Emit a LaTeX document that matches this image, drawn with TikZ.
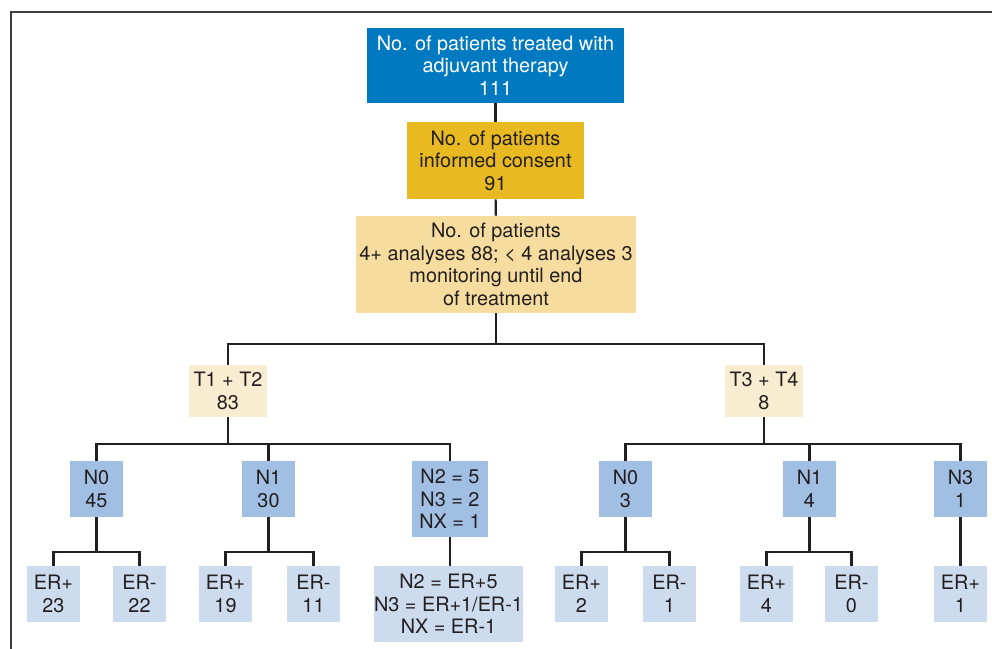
\documentclass[tikz,border=0pt]{standalone}
\usepackage{fontspec}
\setmainfont{TeX Gyre Heros}
\definecolor{topblue}{RGB}{0,121,193}
\definecolor{gold}{RGB}{232,185,32}
\definecolor{tan}{RGB}{246,220,158}
\definecolor{cream}{RGB}{249,237,209}
\definecolor{nblue}{RGB}{161,191,227}
\definecolor{erblue}{RGB}{205,219,238}
\definecolor{ink}{RGB}{35,31,32}
\definecolor{framegray}{RGB}{60,60,60}

\begin{document}
\begin{tikzpicture}[x=0.02cm,y=-0.02cm]

\tikzstyle{box}=[align=center, inner sep=0pt, text=ink, font=\fontsize{11.3}{12.8}\selectfont]
\tikzstyle{nbox}=[box, fill=nblue, minimum width=1.06cm, minimum height=1.12cm]
\tikzstyle{erbox}=[box, fill=erblue, minimum width=1.06cm, minimum height=1.12cm]
\tikzstyle{tbox}=[box, fill=cream, minimum width=1.56cm, minimum height=1.04cm]
\tikzstyle{link}=[draw=ink, line width=1.2pt]

\useasboundingbox (0,0) rectangle (992,649);
\draw[framegray, line width=0.7pt] (11,649) -- (11,12) -- (992,12);

% top part
\node(top)[box, fill=topblue, text=white, minimum width=5.14cm, minimum height=1.5cm] at (495.5,65.5) {No. of patients treated with\\adjuvant therapy\\111};
\node(consent)[box, fill=gold, minimum width=3.54cm, minimum height=1.54cm] at (495.5,160.5) {No. of patients\\informed consent\\91};
\node(monitor)[box, fill=tan, minimum width=5.6cm, minimum height=1.94cm] at (496,264.5) {No. of patients\\4+ analyses 88; < 4 analyses 3\\monitoring until end\\of treatment};

% T stages
\node(t12)[tbox] at (228,391) {T1 + T2\\83};
\node(t34)[tbox] at (764,391) {T3 + T4\\8};

% N stages
\node(n0a)[nbox] at (96.5,489) {N0\\45};
\node(n1a)[nbox] at (268.5,489) {N1\\30};
\node(n2a)[nbox, minimum width=1.52cm, minimum height=1.52cm] at (450,499) {N2 = 5\\N3 = 2\\NX = 1};
\node(n0b)[nbox] at (625.5,489) {N0\\3};
\node(n1b)[nbox] at (809.5,489) {N1\\4};
\node(n3b)[nbox] at (960.5,489) {N3\\1};

% ER status
\node(er23)[erbox] at (53.5,594) {ER+\\23};
\node(er22)[erbox] at (139.5,594) {ER-\\22};
\node(er19)[erbox] at (225.5,594) {ER+\\19};
\node(er11)[erbox] at (313.5,594) {ER-\\11};
\node(ern2)[erbox, minimum width=2.98cm, minimum height=1.52cm] at (448.5,604) {N2 = ER+5\\N3 = ER+1/ER-1\\NX = ER-1};
\node(er2)[erbox] at (581.5,594) {ER+\\2};
\node(er1)[erbox] at (669.5,594) {ER-\\1};
\node(er4)[erbox] at (766.5,594) {ER+\\4};
\node(er0)[erbox] at (851.5,594) {ER-\\0};
\node(er1b)[erbox] at (960.5,594) {ER+\\1};

% connectors
\draw[link] (top) -- (consent);
\draw[link] (consent) -- (monitor);
\foreach \t in {t12,t34}
  \draw[link] (monitor.south) -- ++(0,31) -| (\t.north);
\foreach \n in {n0a,n1a,n2a}
  \draw[link] (t12.south) -- ++(0,27) -| (\n.north);
\foreach \n in {n0b,n1b,n3b}
  \draw[link] (t34.south) -- ++(0,27) -| (\n.north);
\foreach \e in {er23,er22}
  \draw[link] (n0a.south) -- ++(0,35) -| (\e.north);
\foreach \e in {er19,er11}
  \draw[link] (n1a.south) -- ++(0,35) -| (\e.north);
\foreach \e in {er2,er1}
  \draw[link] (n0b.south) -- ++(0,35) -| (\e.north);
\foreach \e in {er4,er0}
  \draw[link] (n1b.south) -- ++(0,35) -| (\e.north);
\draw[link] (n2a.south) -- (n2a.south |- ern2.north);
\draw[link] (n3b.south) -- (er1b.north);

\end{tikzpicture}
\end{document}
